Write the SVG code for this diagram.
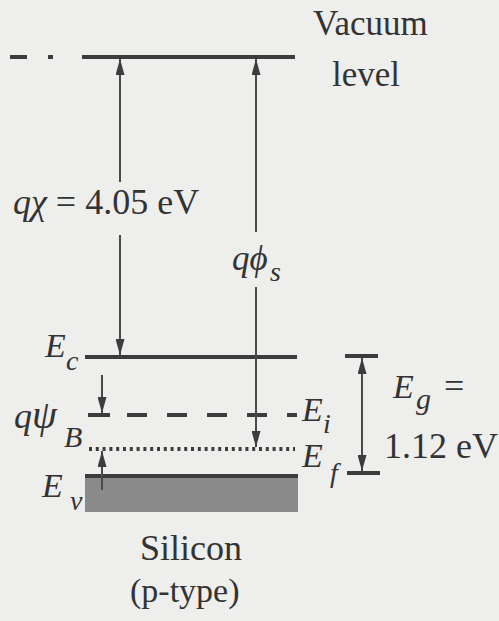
<svg xmlns="http://www.w3.org/2000/svg" width="499" height="621" viewBox="0 0 499 621">
<style>
text{font-family:"Liberation Serif","DejaVu Serif","Times New Roman",serif;fill:#333333}
.it{font-style:italic}
.lvl{stroke:#3c3c3c;stroke-width:4;fill:none}
.arr{stroke:#4a4a4a;stroke-width:2;fill:none}
</style>
<defs>
<marker id="ah" viewBox="0 0 16 9" markerWidth="16" markerHeight="9" refX="16" refY="4.5" orient="auto-start-reverse" markerUnits="userSpaceOnUse">
<path d="M0,0 L16,4.5 L0,9 Z" fill="#3c3c3c"/>
</marker>
</defs>
<rect width="499" height="621" fill="#eeeeec"/>

<g id="vacuum">
<line class="lvl" x1="10" y1="57" x2="27" y2="57"/>
<line class="lvl" x1="48" y1="57" x2="53" y2="57"/>
<line class="lvl" x1="82" y1="57" x2="295" y2="57"/>
<text x="313" y="35" font-size="35">Vacuum</text>
<text x="332" y="86" font-size="35">level</text>
</g>

<g id="Ec">
<line class="lvl" x1="85" y1="357" x2="297" y2="357"/>
<text class="it" x="45" y="357" font-size="34">E</text>
<text class="it" x="66" y="370" font-size="28">c</text>
</g>

<g id="Ei">
<line class="lvl" stroke-width="3" x1="88" y1="415" x2="110" y2="415"/>
<line class="lvl" stroke-width="3" stroke-dasharray="20 20" x1="127" y1="415" x2="297" y2="415"/>
<text class="it" x="302" y="421" font-size="34">E</text>
<text class="it" x="323" y="433" font-size="28">i</text>
</g>

<g id="Ef">
<line class="lvl" stroke-width="3" stroke-dasharray="3 3.8" x1="89" y1="449" x2="295" y2="449"/>
<text class="it" x="302" y="467" font-size="34">E</text>
<text class="it" x="330" y="482" font-size="28">f</text>
</g>

<g id="Ev">
<rect x="85" y="476" width="213" height="36" fill="#8a8a8a"/>
<line class="lvl" stroke-width="3" x1="85" y1="476" x2="298" y2="476"/>
<text class="it" x="42" y="497" font-size="34">E</text>
<text class="it" x="70" y="510" font-size="28">v</text>
</g>

<g id="Eg">
<line class="lvl" stroke-width="3.5" x1="345" y1="356" x2="378" y2="356"/>
<line class="lvl" stroke-width="3.5" x1="347" y1="473" x2="380" y2="473"/>
<text class="it" x="393" y="398" font-size="34">E</text>
<text class="it" x="416" y="409" font-size="30">g</text>
<text x="444" y="398" font-size="36">=</text>
<text x="384" y="458" font-size="36">1.12 eV</text>
</g>

<g id="silicon">
<text x="140" y="560" font-size="36">Silicon</text>
<text x="130" y="602" font-size="34">(p-type)</text>
</g>

<g id="labels">
<text x="13" y="214" font-size="36"><tspan class="it">qχ</tspan> = 4.05 eV</text>
<text class="it" x="232" y="270" font-size="35">qϕ</text>
<text class="it" x="270" y="281" font-size="28">s</text>
<text class="it" x="14" y="428" font-size="36">q<tspan font-size="40">ψ</tspan></text>
<text class="it" x="64" y="447" font-size="30">B</text>
</g>

<g id="connectors">
<line class="arr" x1="120" y1="182" x2="120" y2="59" marker-end="url(#ah)"/>
<line class="arr" x1="120" y1="235" x2="120" y2="355" marker-end="url(#ah)"/>
<line class="arr" x1="256" y1="232" x2="256" y2="59" marker-end="url(#ah)"/>
<line class="arr" x1="256" y1="287" x2="256" y2="447" marker-end="url(#ah)"/>
<line class="arr" x1="102" y1="375" x2="102" y2="413" marker-end="url(#ah)"/>
<line class="arr" x1="102" y1="490" x2="102" y2="451" marker-end="url(#ah)"/>
<line class="arr" x1="362" y1="358" x2="362" y2="471" marker-start="url(#ah)" marker-end="url(#ah)"/>
</g>
</svg>
